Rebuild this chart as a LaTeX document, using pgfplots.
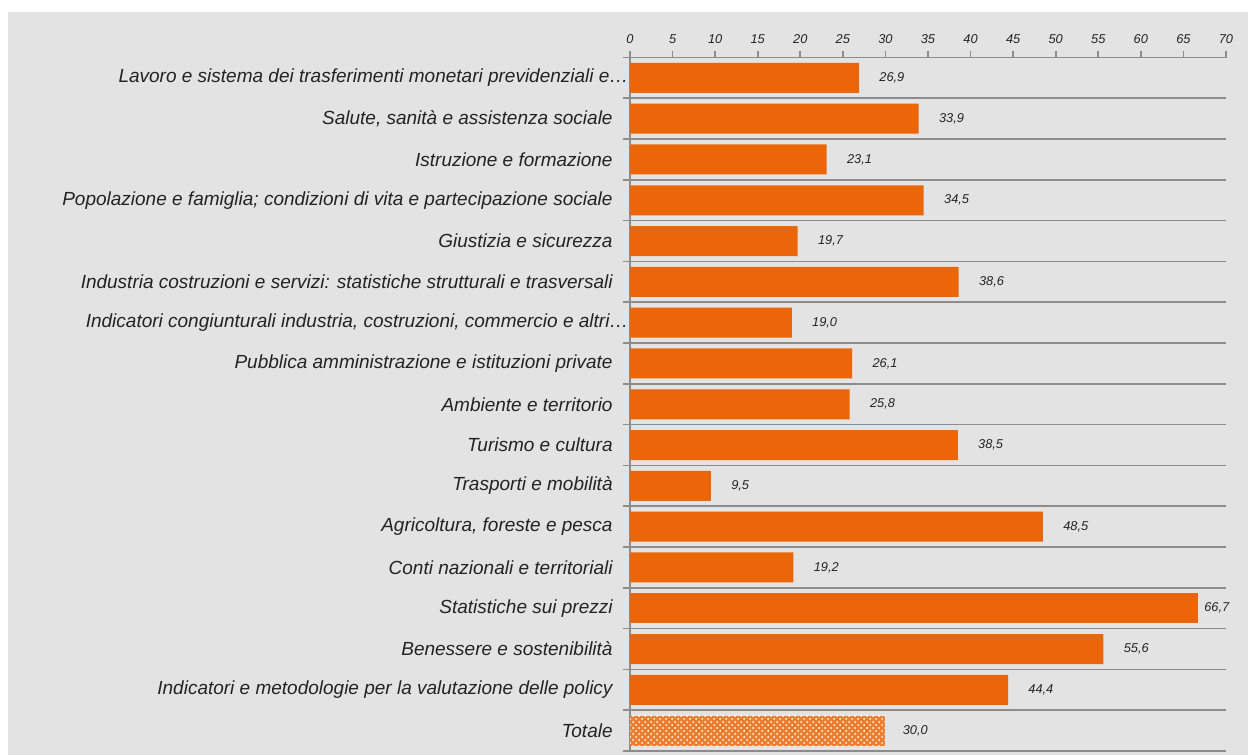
\documentclass[border=0pt]{standalone}
\usepackage{fontspec}
\setmainfont{Liberation Sans}
\usepackage{pgfplots}
\pgfplotsset{compat=1.18}
\usetikzlibrary{patterns}
\definecolor{bg}{RGB}{227,227,227}
\definecolor{barc}{RGB}{235,102,8}
\definecolor{gridc}{RGB}{140,140,140}
\definecolor{txt}{RGB}{35,35,35}
\begin{document}
\begin{tikzpicture}[x=1pt,y=1pt]
\path[use as bounding box] (0,0) rectangle (624,377.5);
\fill[bg] (4,0) rectangle (624,371.5);
\begin{axis}[
  at={(315pt,2pt)}, anchor=south west,
  scale only axis, width=298pt, height=346.75pt,
  xmin=0, xmax=70, xtick={0,5,...,70},
  ymin=-0.5, ymax=16.5, y dir=reverse,
  axis x line*=top, axis y line*=left,
  axis line style={gridc, line width=0.8pt},
  tick style={gridc, line width=0.8pt},
  tick align=outside, major tick length=3.5pt,
  ytick={-0.5,0.5,...,16.5}, yticklabels={},
  ymajorgrids, major grid style={gridc, line width=0.8pt},
  xticklabel style={font=\fontsize{6.4}{7}\selectfont\itshape, text=txt},
  /pgf/number format/assume math mode=true,
  extra y ticks={0,1,...,16},
  extra y tick style={grid=none, tick style={draw=none},
     yticklabel style={font=\fontsize{9.5}{11}\selectfont\itshape, text=txt, anchor=east, inner sep=0pt, xshift=-5pt}},
  extra y tick labels={
    Lavoro e sistema dei trasferimenti monetari previdenziali e…\kern-8pt,
    {Salute, sanità e assistenza sociale},
    Istruzione e formazione,
    Popolazione e famiglia; condizioni di vita e partecipazione sociale,
    Giustizia e sicurezza,
    Industria costruzioni e servizi: statistiche strutturali e trasversali,
    {Indicatori congiunturali industria, costruzioni, commercio e altri…\kern-8pt},
    Pubblica amministrazione e istituzioni private,
    Ambiente e territorio,
    Turismo e cultura,
    Trasporti e mobilità,
    {Agricoltura, foreste e pesca},
    Conti nazionali e territoriali,
    Statistiche sui prezzi,
    Benessere e sostenibilità,
    Indicatori e metodologie per la valutazione delle policy,
    Totale},
  clip=false,
  point meta=x,
  nodes near coords={\pgfmathprintnumber[fixed,fixed zerofill,precision=1,use comma,assume math mode=true]{\pgfplotspointmeta}},
  every node near coord/.append style={font=\fontsize{6.4}{7}\selectfont\itshape, text=txt, anchor=west, inner sep=0pt, xshift=10pt},
]
\addplot[xbar, bar width=15pt, bar shift=0pt, fill=barc, draw=none] coordinates {
 (26.9,0) (33.9,1) (23.1,2) (34.5,3) (19.7,4) (38.6,5) (19.0,6) (26.1,7)
 (25.8,8) (38.5,9) (9.5,10) (48.5,11) (19.2,12) (55.6,14) (44.4,15)};
\addplot[xbar, bar width=15pt, bar shift=0pt, fill=barc, draw=none,
  every node near coord/.append style={xshift=-7pt}] coordinates {(66.7,13)};
\addplot[xbar, bar width=15pt, bar shift=0pt, fill=barc!85!white, draw=none,
  postaction={pattern=crosshatch dots, pattern color=white},
  every node near coord/.append style={xshift=-1.5pt}] coordinates {(30.0,16)};
\end{axis}
\end{tikzpicture}
\end{document}
